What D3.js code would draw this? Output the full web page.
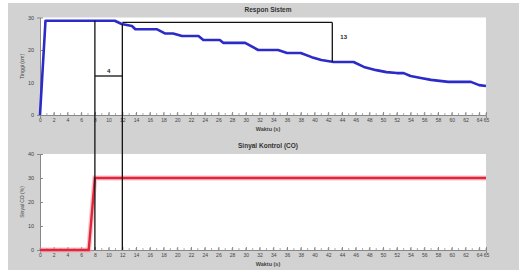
<!DOCTYPE html>
<html><head><meta charset="utf-8">
<script src="https://cdn.jsdelivr.net/npm/d3@7"></script>
<style>body{margin:0;background:#fff}svg{display:block}text{font-family:"Liberation Sans",Arial,sans-serif}</style>
</head><body><svg id="c" width="519" height="271"></svg>
<script>
// ---- data ----
const respTime = [0, 0.8, 10.9, 11.9, 13.4, 13.9, 17, 18.2, 19.4, 20.7, 23.1, 23.8, 26.2, 26.7, 29.9, 31.8, 34.7, 36, 38, 39.6, 41, 42.8, 45.7, 47.2, 49, 50.5, 52, 53, 54, 55.5, 57, 59.5, 62.8, 64, 65];
const respValue = [0, 29, 29, 28, 27.4, 26.4, 26.4, 25.1, 25.1, 24.3, 24.3, 23.1, 23.1, 22.2, 22.2, 20, 20, 19.1, 19.1, 17.8, 16.9, 16.3, 16.3, 14.8, 13.8, 13.2, 12.9, 12.9, 12, 11.4, 10.8, 10.2, 10.2, 9.2, 8.9];
const ctrlTime = [0, 7.1, 8, 65];
const ctrlValue = [0, 0, 30, 30];
const xTicks = d3.range(0, 65, 2).concat([65]);
const yTicksTop = [0, 10, 20, 30];
const yTicksBot = [0, 10, 20, 30, 40];
const deadTime = [8, 12];          // vertical markers (s)
const deadLabel = "4";
const deadLevel = 12;              // level of dead-time bracket
const tauEnd = 42.6, tauLevel = 28.5, tauLabel = "13";
const titles = ["Respon Sistem", "Sinyal Kontrol (CO)"];
const xTitle = "Waktu (s)";
const yTitles = ["Tinggi (cm)", "Sinyal CO (%)"];

// ---- layout ----
const svg = d3.select("#c");
svg.append("rect").attr("x", 8).attr("y", 3).attr("width", 511).attr("height", 267).attr("fill", "#d2d2d2");

const x = d3.scaleLinear().domain([0, 65]).range([40, 486]);
const yTop = d3.scaleLinear().domain([0, 30]).range([115, 17.5]);
const yBot = d3.scaleLinear().domain([0, 40]).range([250, 154]);

function panel(y, yTicks, title, ytitle) {
  const [y0, y1] = y.range();
  const g = svg.append("g");
  g.append("rect").attr("x", x(0)).attr("y", y1).attr("width", x(65) - x(0)).attr("height", y0 - y1).attr("fill", "#fff");
  // minor ticks every 1 s
  g.selectAll(".mt").data(d3.range(0, 66, 1)).join("line")
    .attr("x1", d => x(d)).attr("x2", d => x(d)).attr("y1", y0).attr("y2", y0 - 2)
    .attr("stroke", "#888").attr("stroke-width", 0.7);
  const xa = d3.axisBottom(x).tickValues(xTicks).tickSize(3).tickFormat(d3.format("d"));
  const gx = g.append("g").attr("transform", `translate(0,${y0})`).call(xa);
  gx.select(".domain").attr("stroke", "#888");
  gx.selectAll(".tick line").attr("stroke", "#888").attr("y2", -3);
  gx.selectAll("text").attr("font-size", 5).attr("fill", "#444").attr("y", 3).attr("dy", "0.75em");
  const ya = d3.axisLeft(y).tickValues(yTicks).tickSize(3);
  const gy = g.append("g").attr("transform", `translate(${x(0)},0)`).call(ya);
  gy.select(".domain").attr("stroke", "#888");
  gy.selectAll(".tick line").attr("stroke", "#888").attr("x2", 3);
  gy.selectAll("text").attr("font-size", 5.5).attr("fill", "#444");
  g.append("text").attr("x", 268).attr("y", y1 - 6).attr("text-anchor", "middle")
    .attr("font-size", 6.5).attr("font-weight", "bold").attr("fill", "#333").text(title);
  g.append("text").attr("x", 268).attr("y", y0 + 15.5).attr("text-anchor", "middle")
    .attr("font-size", 5.5).attr("font-weight", "bold").attr("fill", "#444").text(xTitle);
  g.append("text").attr("transform", `translate(24,${(y0 + y1) / 2}) rotate(-90)`).attr("text-anchor", "middle")
    .attr("font-size", 5).attr("fill", "#444").text(ytitle);
}
panel(yTop, yTicksTop, titles[0], yTitles[0]);
panel(yBot, yTicksBot, titles[1], yTitles[1]);

// response line
const respData = respTime.map((t, i) => [t, respValue[i]]);
svg.append("path").datum(respData)
  .attr("d", d3.line().x(d => x(d[0])).y(d => yTop(d[1])))
  .attr("fill", "none").attr("stroke", "#2b2bc8").attr("stroke-width", 2.6).attr("stroke-linejoin", "round");

// control line
const ctrlData = ctrlTime.map((t, i) => [t, ctrlValue[i]]);
svg.append("path").datum(ctrlData)
  .attr("d", d3.line().x(d => x(d[0])).y(d => yBot(d[1])))
  .attr("fill", "none").attr("stroke", "#f4a0a8").attr("stroke-width", 5).attr("opacity", 0.6);
svg.append("path").datum(ctrlData)
  .attr("d", d3.line().x(d => x(d[0])).y(d => yBot(d[1])))
  .attr("fill", "none").attr("stroke", "#e0263c").attr("stroke-width", 2.4);

// annotations
const interp = t => { for (let i = 1; i < respTime.length; i++) { if (t <= respTime[i]) { const a = respTime[i-1], b = respTime[i]; return respValue[i-1] + (respValue[i]-respValue[i-1]) * (t - a) / (b - a); } } return respValue[respValue.length-1]; };
const ann = svg.append("g").attr("stroke", "#111").attr("stroke-width", 1.3).attr("fill", "none");
deadTime.forEach(t => {
  ann.append("line").attr("x1", x(t)).attr("x2", x(t)).attr("y1", yTop(interp(t))).attr("y2", yBot(0));
});
ann.append("line").attr("x1", x(deadTime[0])).attr("x2", x(deadTime[1])).attr("y1", yTop(deadLevel)).attr("y2", yTop(deadLevel));
ann.append("line").attr("x1", x(deadTime[1])).attr("x2", x(tauEnd)).attr("y1", yTop(tauLevel)).attr("y2", yTop(tauLevel));
ann.append("line").attr("x1", x(tauEnd)).attr("x2", x(tauEnd)).attr("y1", yTop(tauLevel)).attr("y2", yTop(interp(tauEnd)));
svg.append("text").attr("x", x((deadTime[0] + deadTime[1]) / 2)).attr("y", yTop(deadLevel) - 3)
  .attr("text-anchor", "middle").attr("font-size", 6).attr("font-weight", "bold").attr("fill", "#222").text(deadLabel);
svg.append("text").attr("x", x(tauEnd) + 8).attr("y", yTop(23.5))
  .attr("font-size", 6).attr("font-weight", "bold").attr("fill", "#222").text(tauLabel);
</script></body></html>
